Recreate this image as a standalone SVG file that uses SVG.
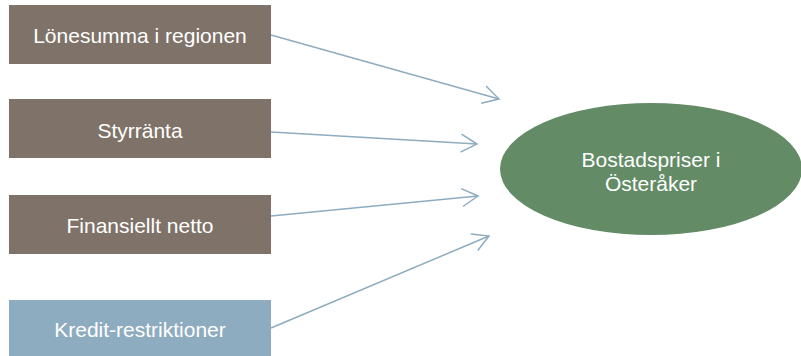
<svg xmlns="http://www.w3.org/2000/svg" width="801" height="356" viewBox="0 0 801 356">
<style>
.box{fill:#7f7369}
.blue{fill:#8eacbf}
.t{font-family:"Liberation Sans",Arial,sans-serif;font-size:21px;fill:#ffffff;text-anchor:middle}
.c{stroke:#8eacbf;stroke-width:1.5;fill:none}
</style>
<defs>
<marker id="ah" markerUnits="userSpaceOnUse" markerWidth="24" markerHeight="24" viewBox="-20 -12 24 24" refX="0" refY="0" orient="auto" overflow="visible">
<path d="M-16,-9 L0,0 L-16,9" fill="none" stroke="#8eacbf" stroke-width="1.5"/>
</marker>
</defs>
<rect width="801" height="356" fill="#ffffff"/>
<g id="connectors">
<line class="c" x1="271" y1="35" x2="499" y2="99" marker-end="url(#ah)"/>
<line class="c" x1="271" y1="132" x2="477" y2="144" marker-end="url(#ah)"/>
<line class="c" x1="271" y1="216" x2="478" y2="196" marker-end="url(#ah)"/>
<line class="c" x1="271" y1="328" x2="489" y2="236" marker-end="url(#ah)"/>
</g>
<g id="n1"><rect class="box" x="9" y="5" width="262" height="59"/><text class="t" x="140" y="43">Lönesumma i regionen</text></g>
<g id="n2"><rect class="box" x="9" y="99" width="262" height="59"/><text class="t" x="140" y="138">Styrränta</text></g>
<g id="n3"><rect class="box" x="9" y="195" width="262" height="59"/><text class="t" x="140" y="233">Finansiellt netto</text></g>
<g id="n4"><rect class="blue" x="9" y="300" width="262" height="60"/><text class="t" x="140" y="337">Kredit-restriktioner</text></g>
<g id="n5"><ellipse cx="651" cy="169" rx="151" ry="66" fill="#638b66"/><text class="t" x="651" y="167">Bostadspriser i</text><text class="t" x="651" y="191">Österåker</text></g>
</svg>
